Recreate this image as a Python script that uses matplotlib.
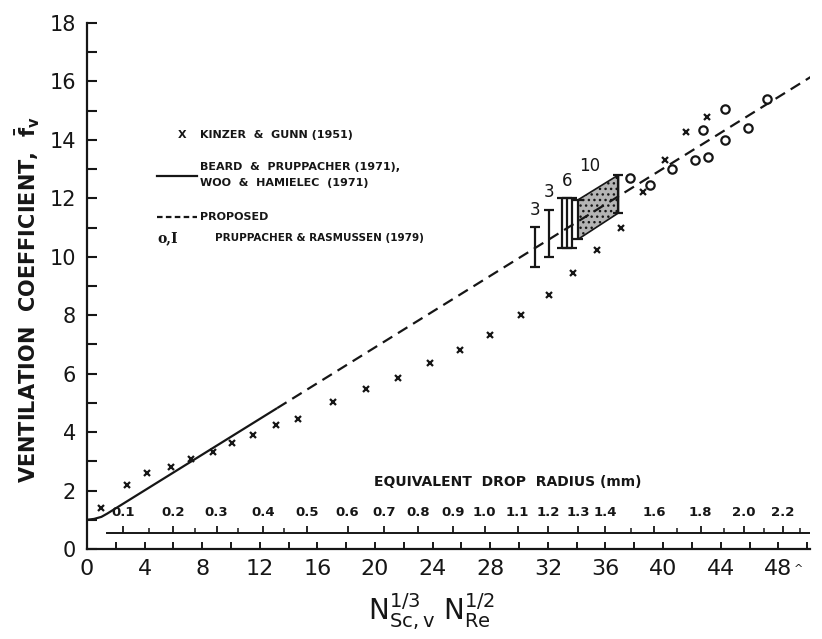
import matplotlib
matplotlib.use("Agg")
from matplotlib import pyplot as plt
from matplotlib.lines import Line2D

plt.rcParams['font.family'] = ['DejaVu Sans']

# Kinzer & Gunn (1951) points
kg_x = [1.0, 2.8, 4.2, 5.8, 7.2, 8.75, 10.1, 11.5, 13.1, 14.65, 17.1, 19.4, 21.6,
        23.8, 25.9, 28.0, 30.1, 32.1, 33.75, 35.4, 37.1, 38.6, 40.1, 41.6, 43.05]
kg_y = [1.40, 2.19, 2.60, 2.80, 3.08, 3.32, 3.63, 3.90, 4.25, 4.45, 5.03, 5.48, 5.86,
        6.37, 6.82, 7.33, 8.00, 8.70, 9.45, 10.24, 11.00, 12.20, 13.30, 14.28, 14.80]

# Pruppacher & Rasmussen (1979) circles
pr_x = [37.7, 39.1, 40.6, 42.2, 43.1, 42.8, 44.3, 44.3, 45.9, 47.2]
pr_y = [12.7, 12.47, 13.0, 13.3, 13.4, 14.35, 14.0, 15.07, 14.4, 15.4]

# Pruppacher & Rasmussen error bars (x, low, high)
eb_x = [31.1, 32.1, 33.0, 33.35, 33.7, 34.1, 36.9]
eb_lo = [9.66, 10.0, 10.3, 10.3, 10.3, 10.6, 11.5]
eb_hi = [11.03, 11.6, 12.0, 12.0, 12.0, 11.95, 12.8]
# counts written above the bars
cnt_x = [31.1, 32.1, 33.35, 34.9]
cnt_y = [11.3, 11.9, 12.3, 12.8]
cnt_txt = ['3', '3', '6', '10']
# shaded band between the two wide bars
band_x = [34.1, 36.9, 36.9, 34.1]
band_y = [10.6, 11.5, 12.8, 11.95]

# Beard & Pruppacher (solid) and proposed (dashed)
bp_x = [0.0, 0.5, 1.0, 1.4, 13.2]
bp_y = [1.0, 1.03, 1.1, 1.21, 4.82]
prop_x = [13.2, 50.4]
prop_y = [4.82, 16.2]

# equivalent drop radius scale
rad_lab = ['0.1', '0.2', '0.3', '0.4', '0.5', '0.6', '0.7', '0.8', '0.9', '1.0',
           '1.1', '1.2', '1.3', '1.4', '1.6', '1.8', '2.0', '2.2']
rad_pos = [2.5, 6.0, 9.0, 12.2, 15.3, 18.1, 20.6, 23.0, 25.4, 27.6,
           29.9, 32.0, 34.1, 36.0, 39.4, 42.6, 45.6, 48.3]
rad_minor = [4.3, 7.5, 10.5, 13.7, 37.8, 41.0, 44.2, 47.0, 49.5]
rad_line = [1.4, 50.2]
rad_y = 0.55

ink = '#161616'

fig = plt.figure(figsize=(8.22, 6.39), dpi=100)
ax = fig.add_axes([87 / 822, 90 / 639, 723 / 822, 526 / 639])
ax.set_xlim(0, 50.2)
ax.set_ylim(0, 18)

for s in ['top', 'right']:
    ax.spines[s].set_visible(False)
for s in ['left', 'bottom']:
    ax.spines[s].set_linewidth(1.6)
    ax.spines[s].set_color(ink)

ax.set_yticks(range(0, 19, 2))
ax.set_yticks(range(1, 18, 2), minor=True)
ax.tick_params(axis='y', which='both', direction='in', length=7, width=1.5,
               labelsize=15, pad=8, colors=ink)
xt = list(range(0, 51, 2))
ax.set_xticks(xt)
ax.set_xticklabels([str(v) if v % 4 == 0 and v < 50 else '' for v in xt])
ax.tick_params(axis='x', direction='in', length=5, width=1.4,
               labelsize=16, pad=7, colors=ink)
ax.text(49.4, -0.7, '^', fontsize=8, color=ink, ha='center', va='center')

# curves
ax.plot(bp_x, bp_y, color=ink, lw=1.6, solid_capstyle='butt')
ax.plot(prop_x, prop_y, color=ink, lw=1.6, linestyle=(0, (5, 3)))

# data
ax.plot(kg_x, kg_y, linestyle='none', marker='x', ms=4, mew=1.6, color=ink)
ax.plot(pr_x, pr_y, linestyle='none', marker='o', ms=6, mew=1.6,
        mfc='white', mec=ink)
ax.fill(band_x, band_y, facecolor='#b4b4b4', edgecolor=ink, lw=1.2, hatch='...')
for x, lo, hi in zip(eb_x, eb_lo, eb_hi):
    ax.errorbar([x], [(lo + hi) / 2], yerr=[[(hi - lo) / 2], [(hi - lo) / 2]],
                fmt='none', ecolor=ink, elinewidth=1.6, capsize=3.5, capthick=1.6)
for x, y, t in zip(cnt_x, cnt_y, cnt_txt):
    ax.text(x, y, t, fontsize=12, ha='center', va='bottom', color=ink)

# equivalent drop radius scale
ax.plot(rad_line, [rad_y, rad_y], color=ink, lw=1.4)
ax.vlines(rad_pos, rad_y, rad_y + 0.22, color=ink, lw=1.3)
ax.vlines(rad_minor, rad_y, rad_y + 0.18, color=ink, lw=1.1)
for x, t in zip(rad_pos, rad_lab):
    ax.text(x, 1.25, t, fontsize=9.5, fontweight='bold', ha='center',
            va='center', color=ink)
ax.text(29.2, 2.29, 'EQUIVALENT  DROP  RADIUS (mm)', fontsize=10,
        fontweight='bold', ha='center', va='center', color=ink)

# legend block
lg = dict(fontsize=8, fontweight='bold', va='center', ha='left', color=ink)
ax.text(6.6, 14.18, 'X', ha='center', va='center', fontsize=8,
        fontweight='bold', color=ink)
ax.text(7.85, 14.18, 'KINZER  &  GUNN (1951)', **lg)
ax.add_line(Line2D([4.86, 7.64], [12.78, 12.78], color=ink, lw=1.6))
ax.text(7.85, 13.08, 'BEARD  &  PRUPPACHER (1971),', **lg)
ax.text(7.85, 12.52, 'WOO  &  HAMIELEC  (1971)', **lg)
ax.add_line(Line2D([4.86, 7.64], [11.37, 11.37], color=ink, lw=1.6,
                   linestyle=(0, (2.5, 1.5))))
ax.text(7.85, 11.37, 'PROPOSED', **lg)
ax.text(4.9, 10.65, 'o,I', fontsize=10, family='DejaVu Serif', va='center',
        ha='left', color=ink, fontweight='bold')
ax.text(8.9, 10.65, 'PRUPPACHER & RASMUSSEN (1979)', fontsize=7.5,
        fontweight='bold', va='center', ha='left', color=ink)

# axis titles
fig.text(28 / 822, 1 - 300 / 639, r'VENTILATION  COEFFICIENT,  $\mathbf{\bar{f}_v}$',
         rotation=90, ha='center', va='center', fontsize=15, color=ink,
         fontweight='bold')
fig.text(431 / 822, 1 - 612 / 639,
         r'$\mathsf{N}_{\mathsf{Sc,v}}^{\mathsf{1/3}}\ \mathsf{N}_{\mathsf{Re}}^{\mathsf{1/2}}$',
         ha='center', va='center', fontsize=20, color=ink)

fig.savefig('out.png', dpi=100)
plt.close(fig)
